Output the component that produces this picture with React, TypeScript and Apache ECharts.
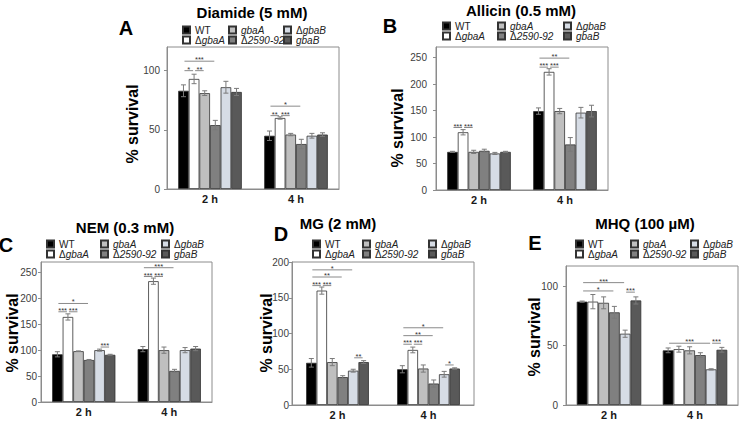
import React, { useEffect, useRef } from "react";
import * as echarts from "echarts";

const categories = ["2 h", "4 h"];
const seriesNames = ["WT", "ΔgbaA", "gbaA", "Δ2590-92", "ΔgbaB", "gbaB"];
const barColors = ["#000000", "#ffffff", "#bfbfbf", "#808080", "#d6dce5", "#595959"];

// values[series][category], errors[series][category]
const diamideValues = [[83, 45], [93, 60], [81, 46], [54, 38], [86, 45], [82, 46]];
const diamideErrors = [[5, 4], [4, 1], [2, 1], [4, 4], [5, 2], [3, 1.5]];
// [category, fromSeries, toSeries, y, label]
const diamideSig = [
  [0, 0, 3, 108, "***"], [0, 0, 1, 100, "*"], [0, 1, 2, 100, "**"],
  [1, 0, 3, 70, "*"], [1, 0, 1, 62, "**"], [1, 1, 2, 62, "***"],
];

const allicinValues = [[72, 149], [109, 223], [72, 149], [74, 86], [69, 146], [72, 149]];
const allicinErrors = [[1, 6], [5, 6], [3, 5], [3, 13], [2, 10], [1, 11]];
const allicinSig = [
  [0, 0, 1, 118, "***"], [0, 1, 2, 118, "***"],
  [1, 0, 3, 249, "**"], [1, 0, 1, 232, "***"], [1, 1, 2, 232, "***"],
];

const nemValues = [[92, 102], [164, 233], [98, 100], [81, 60], [100, 100], [91, 103]];
const nemErrors = [[5, 5], [6, 6], [0.5, 6], [1, 3], [2, 5], [1, 4]];
const nemSig = [
  [0, 0, 3, 190, "*"], [0, 0, 1, 174, "***"], [0, 1, 2, 174, "***"], [0, 4, 5, 106, "***"],
  [1, 0, 3, 259, "***"], [1, 0, 1, 242, "***"], [1, 1, 2, 242, "***"],
];

const mgValues = [[59, 50], [160, 77], [60, 51], [39, 30], [48, 43], [60, 51]];
const mgErrors = [[6, 5], [5, 4], [5, 5], [2, 5], [2, 4], [2, 1]];
const mgSig = [
  [0, 0, 4, 189, "*"], [0, 0, 3, 179, "**"], [0, 0, 1, 167, "***"], [0, 1, 2, 167, "***"], [0, 4, 5, 66, "**"],
  [1, 0, 4, 108, "*"], [1, 0, 3, 97, "**"], [1, 0, 1, 85, "***"], [1, 1, 2, 85, "***"], [1, 4, 5, 56, "*"],
];

const mhqValues = [[87, 46], [87, 47], [86, 46], [78, 42], [60, 30], [88, 46.5]];
const mhqErrors = [[0.5, 2], [6, 2.5], [5, 3], [5, 2], [3, 0.5], [3, 2]];
const mhqSig = [
  [0, 0, 4, 103, "***"], [0, 0, 3, 96, "*"], [0, 4, 5, 95, "***"],
  [1, 0, 4, 52, "***"], [1, 4, 5, 52, "***"],
];

const yTicks = { interval: 50 };

const FONT = '"Liberation Sans", Arial, Helvetica, sans-serif';

const panels = [
  { letter: "A", title: "Diamide (5 mM)", values: diamideValues, errors: diamideErrors, sig: diamideSig, max: 120,
    grid: { left: 167, top: 47, width: 172, height: 142 }, gap: 0.26, labelMargin: 7,
    titlePos: [252, 12], letterPos: [126, 28], namePos: [132, 124],
    legendX: [182, 228, 283], legendY: 25 },
  { letter: "B", title: "Allicin (0.5 mM)", values: allicinValues, errors: allicinErrors, sig: allicinSig, max: 270,
    grid: { left: 436, top: 47, width: 172, height: 143 }, gap: 0.26, labelMargin: 9,
    titlePos: [521, 10], letterPos: [390, 26], namePos: [397, 128],
    legendX: [442, 497, 563], legendY: 21 },
  { letter: "C", title: "NEM (0.3 mM)", values: nemValues, errors: nemErrors, sig: nemSig, max: 270,
    grid: { left: 41, top: 262, width: 171, height: 140 }, gap: 0.26, labelMargin: 4,
    titlePos: [125, 227], letterPos: [6, 245], namePos: [12, 333],
    legendX: [46, 100, 161], legendY: 239 },
  { letter: "D", title: "MG (2 mM)", values: mgValues, errors: mgErrors, sig: mgSig, max: 200,
    grid: { left: 292, top: 262, width: 182, height: 143 }, gap: 0.31, labelMargin: 3,
    titlePos: [338, 223], letterPos: [281, 234], namePos: [266, 333],
    legendX: [312, 362, 428], legendY: 239 },
  { letter: "E", title: "MHQ (100 µM)", values: mhqValues, errors: mhqErrors, sig: mhqSig, max: 117,
    grid: { left: 566, top: 266, width: 172, height: 139 }, gap: 0.25, labelMargin: 8,
    titlePos: [645, 223], letterPos: [535, 243], namePos: [534, 337],
    legendX: [575, 630, 690], legendY: 239 },
];

function legendLabel(name: string) {
  if (name === "WT") return "{n|WT}";
  if (name.startsWith("Δ")) return "{n|Δ}{i|" + name.slice(1) + "}";
  return "{i|" + name + "}";
}

function barCenterX(api: any, cat: number, s: number, gap: number) {
  const c = api.coord([cat, 0]);
  const band = api.size([1, 0])[0];
  const groupW = band * (1 - gap);
  const bw = groupW / seriesNames.length;
  return c[0] - groupW / 2 + (s + 0.5) * bw;
}

function buildOption() {
  const grids: any[] = [];
  const xAxes: any[] = [];
  const yAxes: any[] = [];
  const series: any[] = [];
  const legends: any[] = [];
  const graphics: any[] = [];

  panels.forEach((p, pi) => {
    grids.push({ ...p.grid, show: true, borderColor: "#8c8c8c", borderWidth: 1, containLabel: false });
    xAxes.push({
      type: "category", gridIndex: pi, data: categories,
      axisLine: { lineStyle: { color: "#8c8c8c", width: 1 } },
      axisTick: { show: false },
      axisLabel: { fontSize: 11, fontWeight: "bold", color: "#1a1a1a", fontFamily: FONT, margin: 4 },
    });
    yAxes.push({
      type: "value", gridIndex: pi, min: 0, max: p.max, interval: yTicks.interval,
      axisLine: { show: true, lineStyle: { color: "#8c8c8c", width: 1 } },
      axisTick: { show: true, length: 3, lineStyle: { color: "#8c8c8c" } },
      splitLine: { show: false },
      axisLabel: { fontSize: 10, color: "#404040", fontFamily: FONT, margin: p.labelMargin,
        showMaxLabel: p.max % yTicks.interval === 0 },
    });

    seriesNames.forEach((name, si) => {
      series.push({
        type: "bar", name, xAxisIndex: pi, yAxisIndex: pi,
        data: p.values[si],
        barGap: "0%", barCategoryGap: Math.round(p.gap * 100) + "%",
        itemStyle: { color: barColors[si], borderColor: "#333333", borderWidth: 0.8 },
        emphasis: { disabled: true },
      });
    });

    const errData: number[][] = [];
    p.values.forEach((vals, si) => vals.forEach((v, ci) => errData.push([ci, si, v, p.errors[si][ci]])));
    series.push({
      type: "custom", xAxisIndex: pi, yAxisIndex: pi, z: 5,
      encode: { x: 0, y: 2 },
      data: errData,
      renderItem: (params: any, api: any) => {
        const cat = api.value(0), s = api.value(1), v = api.value(2), e = api.value(3);
        const x = barCenterX(api, cat, s, p.gap);
        const yt = api.coord([cat, v + e])[1];
        const yb = api.coord([cat, v - e])[1];
        const st = { stroke: "#7a7a7a", lineWidth: 1 };
        return {
          type: "group",
          children: [
            { type: "line", shape: { x1: x, y1: yt, x2: x, y2: yb }, style: st },
            { type: "line", shape: { x1: x - 2.5, y1: yt, x2: x + 2.5, y2: yt }, style: st },
            { type: "line", shape: { x1: x - 2.5, y1: yb, x2: x + 2.5, y2: yb }, style: st },
          ],
        };
      },
    });

    series.push({
      type: "custom", xAxisIndex: pi, yAxisIndex: pi, z: 6,
      encode: { x: 0, y: 1 },
      data: p.sig.map((s) => [s[0], s[3]]),
      renderItem: (params: any, api: any) => {
        const item = p.sig[params.dataIndex];
        const cat = item[0] as number, from = item[1] as number, to = item[2] as number;
        const yv = item[3] as number, label = item[4] as string;
        const x1 = barCenterX(api, cat, from, p.gap) + 1;
        const x2 = barCenterX(api, cat, to, p.gap) - 1;
        const y = api.coord([cat, yv])[1];
        return {
          type: "group",
          children: [
            { type: "line", shape: { x1, y1: y, x2, y2: y }, style: { stroke: "#8a8a8a", lineWidth: 1 } },
            { type: "text", style: { text: label, x: (x1 + x2) / 2, y: y + 2.5, align: "center", verticalAlign: "bottom",
              fontSize: 7.5, fontFamily: FONT, fill: "#333333" } },
          ],
        };
      },
    });

    const cols = [[seriesNames[0], seriesNames[1]], [seriesNames[2], seriesNames[3]], [seriesNames[4], seriesNames[5]]];
    cols.forEach((names, ci) => {
      legends.push({
        left: p.legendX[ci], top: p.legendY, orient: "vertical", padding: 0,
        itemWidth: 7, itemHeight: 7, itemGap: 0, selectedMode: false, icon: "rect",
        data: names,
        formatter: legendLabel,
        textStyle: {
          fontSize: 10, color: "#222", fontFamily: FONT, lineHeight: 10,
          rich: { n: { fontSize: 10, fontFamily: FONT, color: "#222" }, i: { fontSize: 10, fontStyle: "italic", fontFamily: FONT, color: "#222" } },
        },
      });
    });

    graphics.push({ type: "text", x: p.titlePos[0], y: p.titlePos[1],
      style: { text: p.title, align: "center", verticalAlign: "middle", fontSize: 15, fontWeight: "bold", fontFamily: FONT, fill: "#000" } });
    graphics.push({ type: "text", x: p.letterPos[0], y: p.letterPos[1],
      style: { text: p.letter, align: "center", verticalAlign: "middle", fontSize: 20, fontWeight: "bold", fontFamily: FONT, fill: "#000" } });
    graphics.push({ type: "text", x: p.namePos[0], y: p.namePos[1], rotation: Math.PI / 2,
      style: { text: "% survival", align: "center", verticalAlign: "middle", fontSize: 16, fontWeight: "bold", fontFamily: FONT, fill: "#000" } });
  });

  return {
    animation: false,
    backgroundColor: "#ffffff",
    textStyle: { fontFamily: FONT },
    grid: grids, xAxis: xAxes, yAxis: yAxes, series, legend: legends, graphic: graphics,
  };
}

export default function App() {
  const ref = useRef<HTMLDivElement>(null);
  useEffect(() => {
    if (!ref.current) return;
    const chart = echarts.init(ref.current, undefined, { renderer: "svg" });
    chart.setOption(buildOption());
    return () => chart.dispose();
  }, []);
  return <div ref={ref} style={{ position: "fixed", left: 0, top: 0, width: 740, height: 421 }} />;
}
